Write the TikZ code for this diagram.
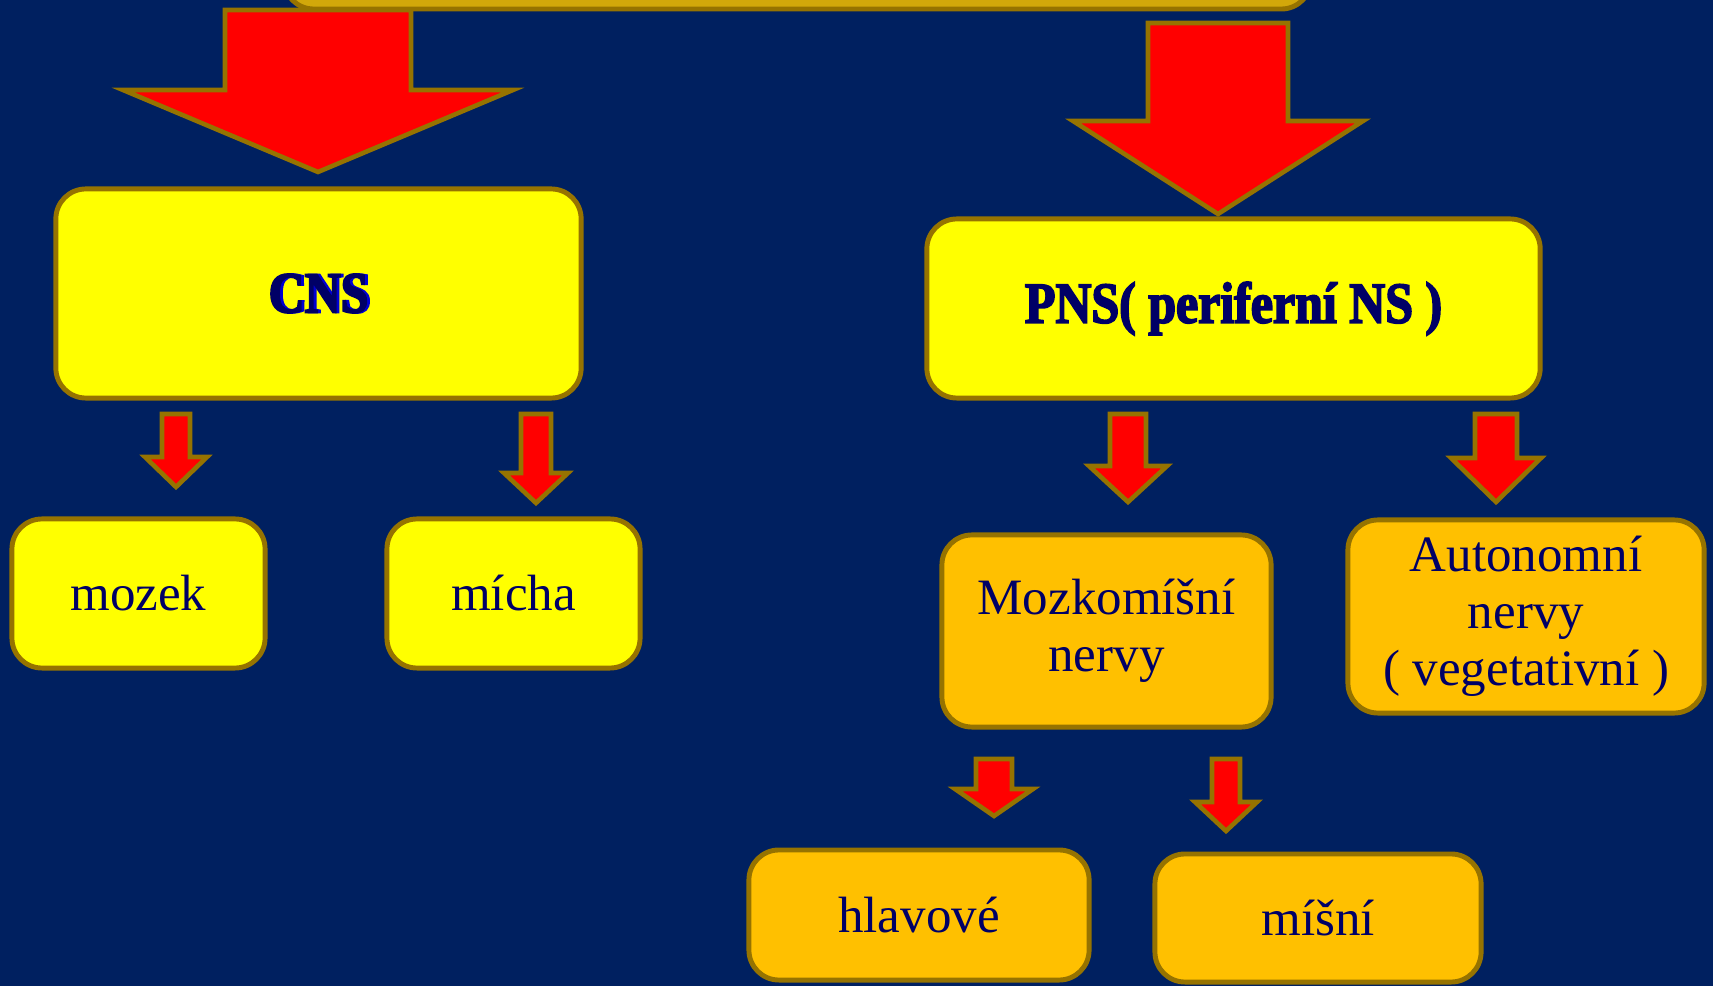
\documentclass[tikz,border=0pt]{standalone}
\usepackage{fontspec}
\setmainfont{Liberation Serif}
\newfontfamily\headfont{Liberation Serif Bold}[FakeStretch=0.86,FakeBold=3]
\definecolor{bgnavy}{RGB}{0,32,96}
\definecolor{txtnavy}{RGB}{0,0,102}
\definecolor{cnsblue}{RGB}{0,0,210}
\definecolor{rimolive}{RGB}{150,115,0}
\definecolor{arrowred}{RGB}{255,0,0}
\definecolor{boxyellow}{RGB}{255,255,0}
\definecolor{boxorange}{RGB}{255,192,0}
\definecolor{topgold}{RGB}{210,168,10}
\tikzset{
  box/.style={draw=rimolive,line width=1.4pt,rounded corners=0.3cm,align=center,text=txtnavy,inner sep=0pt,font=\fontsize{14.5}{16.2}\selectfont},
  ybox/.style={box,fill=boxyellow},
  obox/.style={box,fill=boxorange},
  headtext/.style={font=\headfont\fontsize{16.5}{18}\selectfont},
  blockarrow/.style={draw=rimolive,line width=1.3pt,fill=arrowred}
}
%block arrow pointing down: centre x, top y, half shaft, wing y, half wing, tip y
\newcommand{\downblock}[6]{%
  \draw[blockarrow](#1-#3,#2)--(#1+#3,#2)--(#1+#3,#4)--(#1+#5,#4)--(#1,#6)--(#1-#5,#4)--(#1-#3,#4)--cycle;}
\begin{document}
\begin{tikzpicture}[x=0.01cm,y=-0.01cm]
\useasboundingbox(0,0)rectangle(1713,986);
\fill[bgnavy](0,0)rectangle(1713,986);
\clip(0,0)rectangle(1713,986);
%top box, cut by the page edge
\node[box,fill=topgold,minimum width=10.27cm,minimum height=1.5cm](ns) at (797.5,-66){};
%first level
\node[ybox,headtext,minimum width=5.25cm,minimum height=2.09cm](cns) at (318.5,293.5){\rlap{\hspace{0.8pt}\textcolor{cnsblue}{CNS}}CNS};
\node[ybox,headtext,minimum width=6.13cm,minimum height=1.79cm](pns) at (1233.5,308.5){PNS( periferní NS )};
%second level
\node[ybox,minimum width=2.53cm,minimum height=1.49cm](mozek) at (138.5,593.5){mozek};
\node[ybox,minimum width=2.53cm,minimum height=1.49cm](micha) at (513.5,593.5){mícha};
\node[obox,minimum width=3.29cm,minimum height=1.92cm](mozkomisni) at (1106.5,631){Mozkomíšní\\nervy};
\node[obox,minimum width=3.56cm,minimum height=1.93cm](autonomni) at (1526,616.5){Autonomní\\nervy\\( vegetativní )};
%third level
\node[obox,minimum width=3.40cm,minimum height=1.30cm](hlavove) at (919,915){hlavové};
\node[obox,minimum width=3.26cm,minimum height=1.28cm](misni) at (1318,918){míšní};
%arrows
\downblock{318}{10}{93}{90}{195}{172}
\downblock{1218}{23}{70}{121}{145}{214}
\downblock{176}{414}{14}{457}{31}{487}
\downblock{536}{414}{15}{473}{32}{503}
\downblock{1128}{414}{18}{466}{39}{502}
\downblock{1496}{414}{21}{458}{45}{502}
\downblock{994}{759}{18}{789}{39}{816}
\downblock{1226}{759}{14}{802}{31}{831}
\end{tikzpicture}
\end{document}
